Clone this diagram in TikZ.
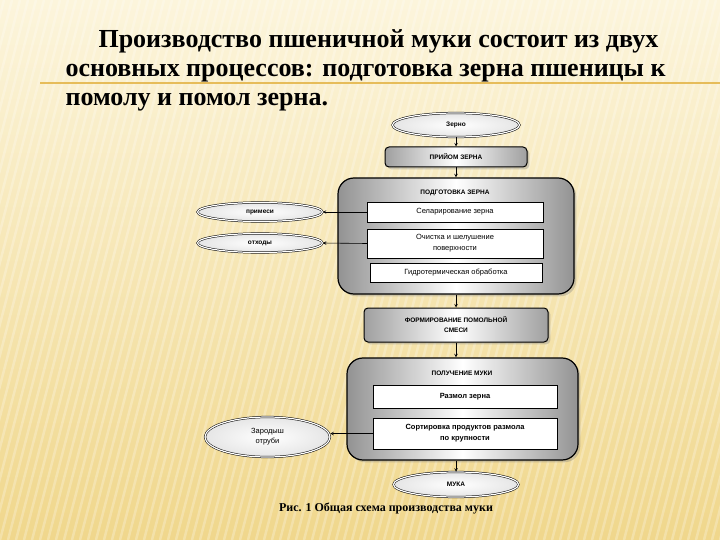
\documentclass[tikz,border=0pt]{standalone}
\usepackage{fontspec}
\setmainfont{Liberation Serif}
\newfontfamily\schemefont{Liberation Sans}
\usetikzlibrary{shapes.geometric,shadows}
\definecolor{paper}{RGB}{252,245,220}
\definecolor{straw}{RGB}{240,215,140}
\definecolor{goldline}{RGB}{225,175,60}

\begin{document}
\begin{tikzpicture}[x=1pt, y=-1pt,
        bigbox/.style={draw=black, line width=1.2pt, rounded corners=16pt, left color=gray!85, right color=gray!85, middle color=white, drop shadow={opacity=0.35}},
        stagebox/.style={draw=black, line width=1pt, rounded corners=4pt, left color=gray!75, right color=gray!75, middle color=white, drop shadow={opacity=0.35}, font=\schemefont\bfseries\fontsize{6.5}{10}\selectfont, align=center, inner sep=0pt},
        heading/.style={font=\schemefont\bfseries\fontsize{6.5}{8}\selectfont},
        opbox/.style={draw=black, line width=0.5pt, fill=white, font=\schemefont\fontsize{7.5}{11}\selectfont, align=center, inner sep=0pt},
        waste/.style={ellipse, draw=black, line width=0.5pt, double=white, double distance=1.2pt, inner color=white, outer color=gray!20, font=\schemefont\fontsize{7.5}{10}\selectfont, align=center, inner sep=0pt},
        flow/.style={-stealth, line width=0.6pt},
        title/.style={anchor=base west, font=\bfseries\fontsize{26}{28}\selectfont}]
        \useasboundingbox (0, 0) rectangle (720, 540);
        % background
        \fill [top color=paper, bottom color=straw] (0, 0) rectangle (720, 540);
        \begin{scope}
            \clip (0, 0) rectangle (720, 540);
            \foreach \i in {-200, -192, ..., 720}
                \draw [white, opacity=0.25, line width=2.5pt] (\i, 540) -- (\i + 140, 0);
        \end{scope}
        \draw [goldline, line width=1.5pt, opacity=0.8] (40, 83) -- (720, 83);

        % text
        \node [title] (line1) at (95, 48) {Производство пшеничной муки состоит из двух};
        \node [title] (line2) at (62, 77) {основных процессов: подготовка зерна пшеницы к};
        \node [title] (line3) at (62, 106) {помолу и помол зерна.};

        % scheme
        \node [waste, minimum width=127, minimum height=24] (grain) at (456, 125) {\bfseries\fontsize{6.5}{8}\selectfont Зерно};
        \node [stagebox, minimum width=142, minimum height=20] (intake) at (456, 157) {ПРИЙОМ ЗЕРНА};

        \node [bigbox, minimum width=236, minimum height=116] (prep) at (456, 236) {};
        \node [heading] (prephead) at (455, 193) {ПОДГОТОВКА ЗЕРНА};
        \node [opbox, minimum width=176, minimum height=20] (separ) at (455, 212) {Селарирование зерна};
        \node [opbox, minimum width=176, minimum height=29] (clean) at (455, 243.5) {Очистка и шелушение\\поверхности};
        \node [opbox, minimum width=172, minimum height=19] (hydro) at (456, 272.5) {Гидротермическая обработка};

        \node [waste, minimum width=125, minimum height=19] (impur) at (260, 212) {\bfseries\fontsize{6.5}{8}\selectfont примеси};
        \node [waste, minimum width=125, minimum height=19] (scrap) at (260, 243) {\bfseries\fontsize{6.5}{8}\selectfont отходы};

        \node [stagebox, minimum width=184, minimum height=34] (mix) at (456, 325) {ФОРМИРОВАНИЕ ПОМОЛЬНОЙ\\СМЕСИ};

        \node [bigbox, minimum width=231, minimum height=102] (milling) at (462.5, 409) {};
        \node [heading] (millhead) at (462, 373) {ПОЛУЧЕНИЕ МУКИ};
        \node [opbox, minimum width=184, minimum height=23] (grind) at (465, 396.5) {\bfseries Размол зерна};
        \node [opbox, minimum width=184, minimum height=31] (sort) at (465, 433.5) {\bfseries Сортировка продуктов размола\\\bfseries по крупности};

        \node [waste, minimum width=125, minimum height=40] (germ) at (267.5, 437) {Зародыш\\отруби};
        \node [waste, minimum width=125, minimum height=25] (flour) at (456, 484.5) {\bfseries\fontsize{6.5}{8}\selectfont МУКА};

        \node [font=\bfseries\fontsize{12}{14}\selectfont] (caption) at (386, 508) {Рис. 1 Общая схема производства муки};

        % connectors
        \draw [flow] (grain) -- (intake);
        \draw [flow] (intake) -- (prep.north -| intake);
        \draw [flow] (prep.south -| intake) -- (mix);
        \draw [flow] (mix) -- (milling.north -| mix);
        \draw [flow] (milling.south -| flour) -- (flour);
        \draw [flow] (separ.west) -- (impur.east);
        \draw [flow] (clean.west) -- (scrap.east);
        \draw [flow] (sort.west) -- (sort.west -| germ.east);
    \end{tikzpicture}
\end{document}
